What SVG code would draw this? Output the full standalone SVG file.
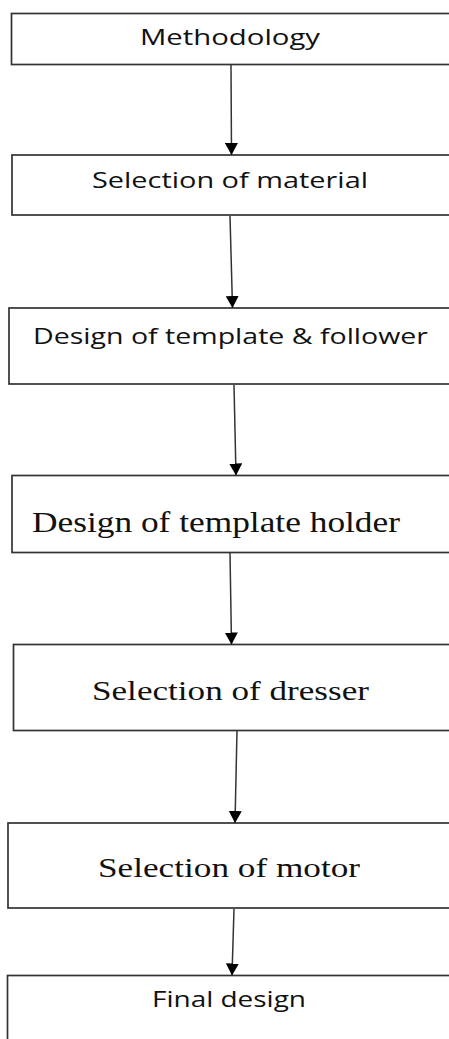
<svg xmlns="http://www.w3.org/2000/svg" width="449" height="1039" viewBox="0 0 449 1039">
<style>
.box{fill:#fff;stroke:#333;stroke-width:1.7}
.sans{font-family:"Open Sans","Liberation Sans",sans-serif;fill:#111}
.serif{font-family:"Liberation Serif","Times New Roman",serif;fill:#111}
.conn{stroke:#333;stroke-width:1.5;fill:none;marker-end:url(#ah)}
</style>
<defs>
<marker id="ah" markerWidth="13" markerHeight="13" refX="12" refY="6.5" orient="auto" markerUnits="userSpaceOnUse" viewBox="0 0 13 13">
<path d="M0,0 L12,6.5 L0,13 Z" fill="#000"/>
</marker>
</defs>
<rect width="449" height="1039" fill="#fff"/>
<g id="n1"><rect class="box" x="11.5" y="13.5" width="460" height="51"/>
<text class="sans" x="140" y="45" font-size="21" textLength="180" lengthAdjust="spacingAndGlyphs">Methodology</text></g>
<g id="n2"><rect class="box" x="12" y="155" width="460" height="60"/>
<text class="sans" x="92" y="188" font-size="21" textLength="276" lengthAdjust="spacingAndGlyphs">Selection of material</text></g>
<g id="n3"><rect class="box" x="9" y="308" width="460" height="76"/>
<text class="sans" x="33" y="344" font-size="21" textLength="395" lengthAdjust="spacingAndGlyphs">Design of template &amp; follower</text></g>
<g id="n4"><rect class="box" x="12" y="475.5" width="460" height="77"/>
<text class="serif" x="32" y="532" font-size="30" textLength="368" lengthAdjust="spacingAndGlyphs">Design of template holder</text></g>
<g id="n5"><rect class="box" x="13.5" y="644.5" width="460" height="86"/>
<text class="serif" x="92" y="700" font-size="28" textLength="277" lengthAdjust="spacingAndGlyphs">Selection of dresser</text></g>
<g id="n6"><rect class="box" x="8" y="823" width="460" height="85"/>
<text class="serif" x="98" y="877" font-size="28" textLength="262" lengthAdjust="spacingAndGlyphs">Selection of motor</text></g>
<g id="n7"><rect class="box" x="7.5" y="975.5" width="460" height="80"/>
<text class="sans" x="152" y="1007" font-size="21" textLength="154" lengthAdjust="spacingAndGlyphs">Final design</text></g>
<g id="connectors">
<line class="conn" x1="231" y1="65" x2="231.5" y2="155"/>
<line class="conn" x1="230" y1="216" x2="232.5" y2="308"/>
<line class="conn" x1="234" y1="385" x2="236" y2="475.5"/>
<line class="conn" x1="230" y1="553" x2="231.5" y2="644.5"/>
<line class="conn" x1="237" y1="731" x2="235" y2="823"/>
<line class="conn" x1="234" y1="909" x2="232" y2="975.5"/>
</g>
</svg>
